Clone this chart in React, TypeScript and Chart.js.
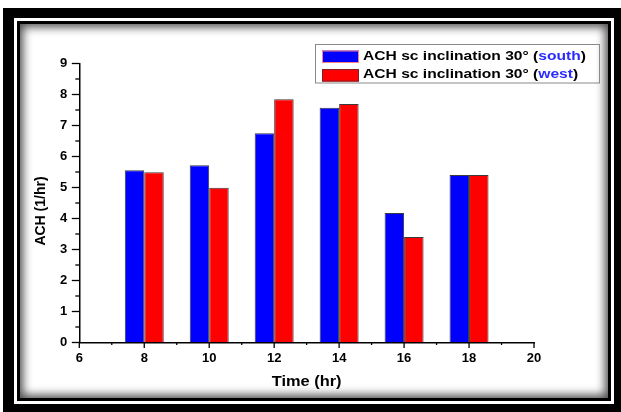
import React, { useEffect, useRef } from 'react';
import { Chart, registerables } from 'chart.js';

Chart.register(...registerables);

// ---- data ----
const hours = [8, 10, 12, 14, 16, 18];
const southACH = [5.56, 5.72, 6.75, 7.57, 4.18, 5.4];
const westACH = [5.49, 4.99, 7.85, 7.69, 3.4, 5.4];
const legendPrefix = 'ACH sc inclination 30° (';
const legendWords = ['south', 'west'];
const legendSuffix = ')';
const seriesLabels = legendWords.map((w) => legendPrefix + w + legendSuffix);
const seriesColors = ['#0000ff', '#ff0000'];
const swatchBorders = ['#ff8080', '#802020'];
const xTitle = 'Time (hr)';
const yTitle = 'ACH (1/hr)';
const xMin = 6;
const xMax = 20;
const yMin = 0;
const yMax = 9;

const FONT = '"Liberation Sans", Arial, Helvetica, sans-serif';

const decorPlugin = {
  id: 'decor',
  afterDraw(chart: any) {
    const { ctx, chartArea } = chart;
    const x = chart.scales.x;
    const y = chart.scales.y;
    ctx.save();
    ctx.strokeStyle = '#000';
    ctx.lineWidth = 1.3;
    // y tick marks (major + minor)
    for (let v = yMin; v <= yMax + 1e-9; v += 0.5) {
      const py = y.getPixelForValue(v);
      const len = Number.isInteger(v) ? 7.5 : 4;
      ctx.beginPath();
      ctx.moveTo(chartArea.left - len, py);
      ctx.lineTo(chartArea.left, py);
      ctx.stroke();
    }
    // x tick marks
    for (let v = xMin; v <= xMax; v += 1) {
      const px = x.getPixelForValue(v);
      const len = v % 2 === 0 ? 5.5 : 2.5;
      ctx.beginPath();
      ctx.moveTo(px, chartArea.bottom);
      ctx.lineTo(px, chartArea.bottom + len);
      ctx.stroke();
    }

    // axis titles
    ctx.fillStyle = '#000';
    ctx.font = `bold 14px ${FONT}`;
    ctx.textAlign = 'center';
    ctx.textBaseline = 'middle';
    ctx.save();
    ctx.translate((chartArea.left + chartArea.right) / 2, chartArea.bottom + 39.5);
    ctx.scale(1.17, 1);
    ctx.fillText(xTitle, 0, 0);
    ctx.restore();
    ctx.save();
    ctx.translate(chartArea.left - 38, (chartArea.top + chartArea.bottom) / 2 + 8);
    ctx.rotate(-Math.PI / 2);
    ctx.fillText(yTitle, 0, 0);
    ctx.restore();

    // legend
    const bx = chartArea.right - 219;
    const by = chartArea.top - 19.5;
    const bw = 284;
    const bh = 38.5;
    ctx.lineWidth = 1;
    ctx.strokeStyle = '#8a8a8a';
    ctx.strokeRect(bx + 0.5, by + 0.5, bw, bh);
    ctx.font = `bold 13px ${FONT}`;
    ctx.textAlign = 'left';
    ctx.textBaseline = 'middle';
    for (let i = 0; i < legendWords.length; i++) {
      const rowY = by + 12 + i * 18.6;
      ctx.fillStyle = seriesColors[i];
      ctx.fillRect(bx + 7, rowY - 5.5, 37, 12.5);
      ctx.strokeStyle = swatchBorders[i];
      ctx.strokeRect(bx + 7.5, rowY - 5, 36, 11.5);
      ctx.save();
      ctx.translate(bx + 48, rowY);
      ctx.scale(1.2, 1);
      let tx = 0;
      const segs: [string, string][] = [
        [legendPrefix, '#000'],
        [legendWords[i], '#2a2aff'],
        [legendSuffix, '#000'],
      ];
      for (const [t, c] of segs) {
        ctx.fillStyle = c;
        ctx.fillText(t, tx, 0);
        tx += ctx.measureText(t).width;
      }
      ctx.restore();
    }
    ctx.restore();
  },
};

export default function App() {
  const ref = useRef<HTMLCanvasElement | null>(null);

  useEffect(() => {
    if (!ref.current) return;
    const tickFont = { family: FONT, size: 13, weight: 'bold' as const };
    const chart = new Chart(ref.current, {
      type: 'bar',
      data: {
        datasets: [
          {
            label: seriesLabels[0],
            data: hours.map((h, i) => ({ x: h, y: southACH[i] })),
            backgroundColor: seriesColors[0],
            borderColor: '#3a3a3a',
            borderWidth: 1,
          },
          {
            label: seriesLabels[1],
            data: hours.map((h, i) => ({ x: h, y: westACH[i] })),
            backgroundColor: seriesColors[1],
            borderColor: '#3a3a3a',
            borderWidth: 1,
          },
        ],
      },
      options: {
        responsive: false,
        animation: false,
        events: [],
        layout: { padding: { left: 20, top: 63.5, right: 87, bottom: 24.5 } },
        datasets: { bar: { categoryPercentage: 1.2, barPercentage: 1 } },
        plugins: { legend: { display: false }, tooltip: { enabled: false } },
        scales: {
          x: {
            type: 'linear',
            min: xMin,
            max: xMax,
            offset: false,
            afterFit: (s: any) => {
              s.height = 45;
            },
            grid: {
              display: true,
              drawOnChartArea: false,
              drawTicks: true,
              tickLength: 5,
              color: 'rgba(0,0,0,0)',
              offset: false,
            },
            border: { display: true, color: '#000', width: 1.5 },
            ticks: {
              stepSize: 1,
              autoSkip: false,
              maxRotation: 0,
              padding: 3,
              color: '#000',
              font: tickFont,
              callback: (v: any) => (Number(v) % 2 === 0 ? String(v) : ''),
            },
          },
          y: {
            type: 'linear',
            min: yMin,
            max: yMax,
            afterFit: (s: any) => {
              s.width = 59.3;
            },
            grid: {
              display: true,
              drawOnChartArea: false,
              drawTicks: true,
              tickLength: 8,
              color: 'rgba(0,0,0,0)',
            },
            border: { display: true, color: '#000', width: 1.5 },
            ticks: {
              stepSize: 0.5,
              autoSkip: false,
              padding: 4,
              color: '#000',
              font: tickFont,
              callback: (v: any) => (Number.isInteger(Number(v)) ? String(v) : ''),
            },
          },
        },
      },
      plugins: [decorPlugin],
    } as any);
    return () => chart.destroy();
  }, []);

  return (
    <div
      style={{
        position: 'absolute',
        left: 0,
        top: 0,
        width: 621,
        height: 412,
        background: '#fff',
        overflow: 'hidden',
      }}
    >
      <div style={{ position: 'absolute', left: 3, top: 8, width: 618, height: 404, background: '#000' }} />
      <div style={{ position: 'absolute', left: 14, top: 18, width: 600, height: 386, background: '#fff' }} />
      <div style={{ position: 'absolute', left: 17, top: 21, width: 594, height: 380, background: '#000' }} />
      <div
        style={{
          position: 'absolute',
          left: 20,
          top: 24,
          width: 588,
          height: 374,
          background: '#fff',
          boxShadow: 'inset 0 0 10px 3px rgba(0,0,0,0.7)',
        }}
      />
      <canvas
        ref={ref}
        width={621}
        height={412}
        style={{ position: 'absolute', left: 0, top: 0, width: 621, height: 412 }}
      />
    </div>
  );
}
